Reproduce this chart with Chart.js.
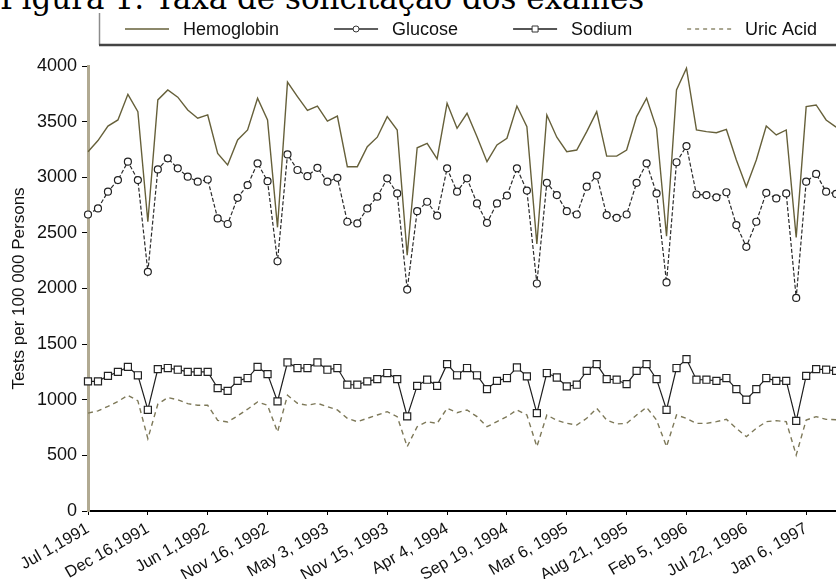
<!DOCTYPE html>
<html>
<head>
<meta charset="utf-8">
<script src="https://cdn.jsdelivr.net/npm/chart.js@4"></script>
<style>
  html, body { margin: 0; padding: 0; background: #fff; overflow: hidden; }
  body { width: 836px; height: 579px; position: relative; }
  #caption {
    position: absolute; left: 0; top: -17px;
    font-family: "DejaVu Serif", serif; font-size: 31px; line-height: 31px;
    white-space: nowrap; color: #000;
  }
  #wrap { position: absolute; left: 0; top: 0; width: 850px; height: 579px; }
</style>
</head>
<body>
<div id="caption">Figura 1: Taxa de solicitação dos exames</div>
<div id="wrap"><canvas id="myChart" width="850" height="579"></canvas></div>
<script>
// one point every 4 weeks from Jul 1, 1991
const startDate = new Date(1991, 6, 1);
const tickLabels = ["Jul 1,1991", "Dec 16,1991", "Jun 1,1992", "Nov 16, 1992", "May 3, 1993",
  "Nov 15, 1993", "Apr 4, 1994", "Sep 19, 1994", "Mar 6, 1995", "Aug 21, 1995",
  "Feb 5, 1996", "Jul 22, 1996", "Jan 6, 1997"];

const hemoglobin = [3230, 3330, 3460, 3515, 3745, 3590, 2600, 3695, 3785, 3720,
  3605, 3530, 3560, 3215, 3110, 3335, 3425, 3710, 3515, 2550,
  3855, 3725, 3600, 3640, 3505, 3550, 3095, 3095, 3275, 3360,
  3545, 3425, 2300, 3265, 3305, 3165, 3665, 3440, 3575, 3365,
  3140, 3290, 3350, 3640, 3455, 2400, 3560, 3360, 3230, 3245,
  3410, 3590, 3190, 3190, 3245, 3545, 3710, 3440, 2470, 3785,
  3980, 3425, 3410, 3400, 3430, 3155, 2915, 3155, 3460, 3380,
  3425, 2460, 3635, 3650, 3515, 3450];

const glucose = [2665, 2720, 2870, 2975, 3140, 2975, 2150, 3070, 3170, 3080,
  3005, 2960, 2980, 2630, 2580, 2815, 2930, 3125, 2965, 2245,
  3205, 3065, 3010, 3085, 2960, 2995, 2600, 2585, 2720, 2825,
  2990, 2855, 1990, 2695, 2780, 2655, 3080, 2870, 2990, 2765,
  2590, 2765, 2835, 3080, 2880, 2045, 2950, 2840, 2695, 2665,
  2915, 3015, 2660, 2635, 2665, 2950, 3125, 2855, 2055, 3135,
  3280, 2845, 2840, 2820, 2865, 2570, 2375, 2600, 2860, 2810,
  2855, 1915, 2960, 3030, 2870, 2850];

const sodium = [1165, 1165, 1215, 1250, 1295, 1220, 910, 1275, 1285, 1270,
  1250, 1250, 1250, 1105, 1080, 1170, 1195, 1295, 1230, 985,
  1335, 1285, 1285, 1335, 1270, 1285, 1135, 1135, 1165, 1185,
  1240, 1185, 850, 1125, 1180, 1125, 1320, 1220, 1285, 1220,
  1095, 1170, 1195, 1290, 1210, 880, 1240, 1200, 1120, 1135,
  1260, 1320, 1185, 1180, 1140, 1260, 1320, 1185, 910, 1285,
  1365, 1180, 1180, 1170, 1195, 1095, 1000, 1095, 1195, 1170,
  1170, 810, 1215, 1275, 1270, 1260];

const uricAcid = [880, 900, 940, 985, 1040, 990, 650, 960, 1020, 1000,
  965, 950, 950, 815, 800, 855, 915, 980, 950, 710,
  1040, 968, 950, 968, 938, 908, 833, 803, 833, 863,
  893, 848, 578, 758, 803, 788, 923, 884, 908, 848,
  758, 803, 848, 908, 863, 578, 863, 815, 788, 773,
  833, 923, 818, 782, 788, 863, 932, 818, 578, 863,
  833, 788, 788, 803, 824, 743, 668, 743, 803, 812,
  803, 503, 818, 848, 824, 820];

const categories = hemoglobin.map((v, i) => {
  const d = new Date(startDate.getTime() + i * 28 * 86400000);
  return d.toDateString();
});

// legend drawn in a framed strip above the plot, like the original figure
const boxLegend = {
  id: 'boxLegend',
  afterDraw(chart) {
    const ctx = chart.ctx;
    ctx.save();
    ctx.strokeStyle = '#8c8c8c';
    ctx.lineWidth = 1.5;
    ctx.beginPath(); ctx.moveTo(99.5, 13); ctx.lineTo(99.5, 45); ctx.stroke();
    ctx.strokeStyle = '#444';
    ctx.lineWidth = 2.5;
    ctx.beginPath(); ctx.moveTo(99, 45); ctx.lineTo(chart.width, 45); ctx.stroke();

    ctx.font = '18px "Liberation Sans", Arial, sans-serif';
    ctx.textBaseline = 'middle';
    let x = 125;
    const y = 29;
    chart.data.datasets.forEach(ds => {
      ctx.strokeStyle = ds.borderColor;
      ctx.lineWidth = 1.3;
      ctx.setLineDash(ds.legendDash || []);
      ctx.beginPath(); ctx.moveTo(x, y); ctx.lineTo(x + 44, y); ctx.stroke();
      ctx.setLineDash([]);
      if (ds.pointRadius > 0) {
        ctx.fillStyle = '#fff';
        ctx.strokeStyle = '#333';
        ctx.lineWidth = 1;
        ctx.beginPath();
        if (ds.pointStyle === 'rect') ctx.rect(x + 19, y - 3, 6, 6);
        else ctx.arc(x + 22, y, 3, 0, Math.PI * 2);
        ctx.fill(); ctx.stroke();
      }
      ctx.fillStyle = '#111';
      ctx.fillText(ds.label, x + 58, y + 1);
      x += 58 + ctx.measureText(ds.label).width + 55;
    });
    ctx.restore();
  }
};

new Chart(document.getElementById('myChart'), {
  type: 'line',
  plugins: [boxLegend],
  data: {
    labels: categories,
    datasets: [
      {
        label: 'Hemoglobin',
        data: hemoglobin,
        borderColor: '#66603a',
        borderWidth: 1.4,
        pointRadius: 0,
        tension: 0
      },
      {
        label: 'Glucose',
        data: glucose,
        borderColor: '#2a2a2a',
        borderWidth: 1.2,
        borderDash: [4, 2],
        pointStyle: 'circle',
        pointRadius: 3.5,
        pointBackgroundColor: '#fff',
        pointBorderColor: '#222',
        pointBorderWidth: 1.2,
        tension: 0
      },
      {
        label: 'Sodium',
        data: sodium,
        borderColor: '#1e1e1e',
        borderWidth: 1.2,
        pointStyle: 'rect',
        pointRadius: 5,
        pointBackgroundColor: '#fff',
        pointBorderColor: '#222',
        pointBorderWidth: 1.2,
        tension: 0
      },
      {
        label: 'Uric Acid',
        data: uricAcid,
        borderColor: '#7d7858',
        borderWidth: 1.4,
        borderDash: [5, 4],
        legendDash: [4, 4],
        pointRadius: 0,
        tension: 0
      }
    ]
  },
  options: {
    responsive: false,
    animation: false,
    layout: { padding: { top: 66, right: 6, left: 0, bottom: 0 } },
    plugins: {
      legend: { display: false },
      tooltip: { enabled: false }
    },
    scales: {
      x: {
        afterFit(scale) { scale.height = 68; },
        border: { color: '#000', width: 2 },
        grid: {
          drawOnChartArea: false,
          tickLength: 4,
          tickColor: ctx => ctx.index % 6 === 0 ? '#000' : 'rgba(0,0,0,0)'
        },
        ticks: {
          autoSkip: false,
          minRotation: 30,
          maxRotation: 30,
          padding: 4,
          color: '#111',
          font: { family: '"Liberation Sans", Arial, sans-serif', size: 16.5 },
          callback: (v, i) => i % 6 === 0 ? tickLabels[i / 6] : ''
        }
      },
      y: {
        min: 0,
        max: 4000,
        afterFit(scale) { scale.width = 88; },
        border: { color: '#b1aa92', width: 3 },
        grid: { drawOnChartArea: false, tickLength: 6, tickColor: '#000' },
        ticks: {
          stepSize: 500,
          padding: 5,
          color: '#111',
          font: { family: '"Liberation Sans", Arial, sans-serif', size: 18 },
          callback: v => String(v)
        },
        title: {
          display: true,
          text: 'Tests per 100 000 Persons',
          color: '#111',
          padding: { top: 9, bottom: 0 },
          font: { family: '"Liberation Sans", Arial, sans-serif', size: 17 }
        }
      }
    }
  }
});
</script>
</body>
</html>
